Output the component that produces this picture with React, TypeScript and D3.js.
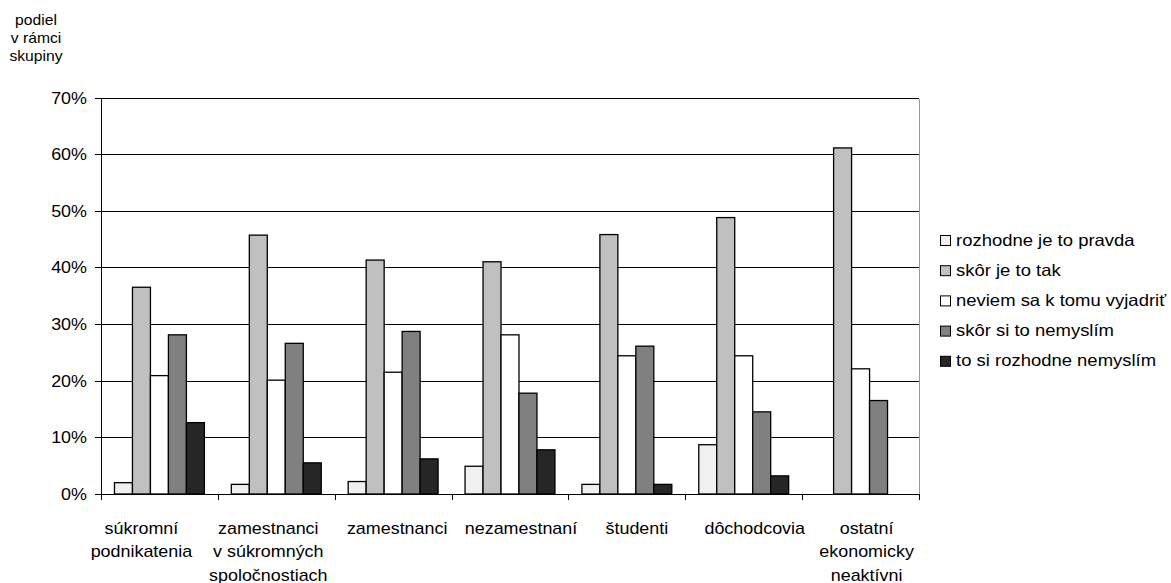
import React from "react";
import * as d3 from "d3";

const categories: string[][] = [
  ["súkromní", "podnikatenia"],
  ["zamestnanci", "v súkromných", "spoločnostiach"],
  ["zamestnanci"],
  ["nezamestnaní"],
  ["študenti"],
  ["dôchodcovia"],
  ["ostatní", "ekonomicky", "neaktívni"],
];

const seriesNames = [
  "rozhodne je to pravda",
  "skôr je to tak",
  "neviem sa k tomu vyjadriť",
  "skôr si to nemyslím",
  "to si rozhodne nemyslím",
];

const rozhodneAno = [2.0, 1.7, 2.2, 4.9, 1.7, 8.7, 0];
const skorAno = [36.5, 45.7, 41.3, 41.0, 45.8, 48.8, 61.1];
const neviem = [20.9, 20.1, 21.5, 28.1, 24.4, 24.4, 22.1];
const skorNie = [28.1, 26.6, 28.7, 17.8, 26.1, 14.5, 16.5];
const rozhodneNie = [12.6, 5.5, 6.2, 7.8, 1.7, 3.2, 0];

const seriesValues = [rozhodneAno, skorAno, neviem, skorNie, rozhodneNie];
const seriesColors = ["#f0f0f0", "#c0c0c0", "#ffffff", "#808080", "#262626"];

const yTicks = [0, 10, 20, 30, 40, 50, 60, 70];
const yTitle = ["podiel", "v rámci", "skupiny"];

// layout tweaks for category label placement (horizontal nudges)
const labelDx = [-18, -8, 4, 11, 10, 11, 6];

const FONT = "'Liberation Sans', Arial, Helvetica, sans-serif";
const SX = 1.12;

function T({ x, y, children, anchor = "middle", size = 16 }: any) {
  return (
    <text
      transform={`translate(${x},${y}) scale(${SX},1)`}
      textAnchor={anchor}
      fontSize={size}
      fontFamily={FONT}
      fill="#000"
    >
      {children}
    </text>
  );
}

export default function App() {
  const W = 1171;
  const H = 583;
  const left = 101;
  const right = 919;
  const top = 97.5;
  const bottom = 494;

  const y = d3.scaleLinear().domain([0, 70]).range([bottom, top]);
  const x0 = d3
    .scaleBand<number>()
    .domain(d3.range(categories.length))
    .range([left, right])
    .padding(0);
  const x1 = d3
    .scaleBand<number>()
    .domain(d3.range(seriesNames.length))
    .range([0, x0.bandwidth()])
    .paddingInner(0)
    .paddingOuter(0.75);

  const snap = (v: number) => Math.round(v) + 0.5;

  return (
    <svg
      width={W}
      height={H}
      style={{ position: "absolute", left: 0, top: 0, background: "#fff" }}
    >
      {/* y title */}
      {yTitle.map((t, i) => (
        <T key={i} x={36} y={25 + i * 18} size={14}>
          {t}
        </T>
      ))}

      {/* plot border right */}
      <line
        x1={snap(right)}
        x2={snap(right)}
        y1={snap(y(70))}
        y2={snap(y(0))}
        stroke="#999"
        strokeWidth={1}
        shapeRendering="crispEdges"
      />

      {/* gridlines */}
      {yTicks.map((t) => (
        <line
          key={t}
          x1={left}
          x2={right}
          y1={snap(y(t))}
          y2={snap(y(t))}
          stroke="#000"
          strokeWidth={1}
          shapeRendering="crispEdges"
        />
      ))}

      {/* bars */}
      {seriesValues.map((vals, si) =>
        vals.map((v, ci) =>
          v > 0 ? (
            <rect
              key={`${si}-${ci}`}
              x={(x0(ci) as number) + (x1(si) as number)}
              y={y(v)}
              width={x1.bandwidth()}
              height={y(0) - y(v)}
              fill={seriesColors[si]}
              stroke="#000"
              strokeWidth={1.3}
            />
          ) : null
        )
      )}

      {/* y axis */}
      <line
        x1={snap(left)}
        x2={snap(left)}
        y1={snap(y(70))}
        y2={snap(y(0))}
        stroke="#000"
        shapeRendering="crispEdges"
      />
      {yTicks.map((t) => (
        <g key={t}>
          <line
            x1={left - 6}
            x2={left}
            y1={snap(y(t))}
            y2={snap(y(t))}
            stroke="#000"
            shapeRendering="crispEdges"
          />
          <T x={87} y={y(t) + 6} anchor="end">
            {`${t}%`}
          </T>
        </g>
      ))}

      {/* x axis */}
      <line
        x1={left}
        x2={right}
        y1={snap(y(0))}
        y2={snap(y(0))}
        stroke="#000"
        shapeRendering="crispEdges"
      />
      {d3.range(categories.length + 1).map((i) => {
        const xx = snap(left + i * x0.step());
        return (
          <line
            key={i}
            x1={xx}
            x2={xx}
            y1={y(0)}
            y2={y(0) + 6}
            stroke="#000"
            shapeRendering="crispEdges"
          />
        );
      })}
      {categories.map((lines, ci) =>
        lines.map((ln, li) => (
          <T
            key={`${ci}-${li}`}
            x={(x0(ci) as number) + x0.bandwidth() / 2 + labelDx[ci]}
            y={534 + li * 23.3}
          >
            {ln}
          </T>
        ))
      )}

      {/* legend */}
      {seriesNames.map((name, i) => (
        <g key={name}>
          <rect
            x={940.5}
            y={235.5 + i * 30.2}
            width={10}
            height={10}
            fill={seriesColors[i]}
            stroke="#000"
            strokeWidth={1}
          />
          <T x={956} y={245.5 + i * 30.2} anchor="start" size={16.5}>
            {name}
          </T>
        </g>
      ))}
    </svg>
  );
}
